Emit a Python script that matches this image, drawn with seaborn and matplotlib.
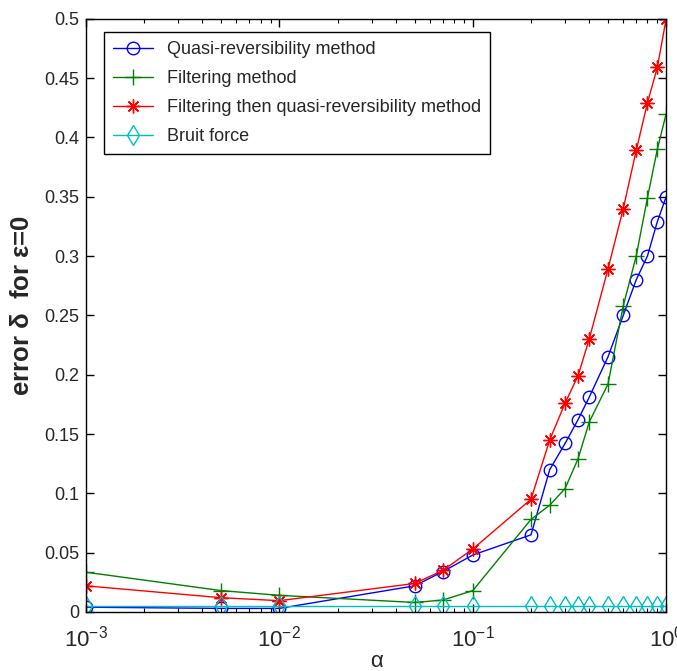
import numpy as np
import pandas as pd
import matplotlib
matplotlib.use("Agg")
import matplotlib.pyplot as plt
import seaborn as sns
from matplotlib.ticker import FixedLocator, LogLocator, NullFormatter

alpha = [0.001, 0.005, 0.01, 0.05, 0.07, 0.1, 0.2, 0.25, 0.3, 0.35, 0.4,
         0.5, 0.6, 0.7, 0.8, 0.9, 1.0]
quasi = [0.004, 0.003, 0.003, 0.022, 0.034, 0.048, 0.065, 0.120, 0.142, 0.162,
         0.181, 0.215, 0.250, 0.280, 0.300, 0.329, 0.350]
filt = [0.0335, 0.018, 0.014, 0.008, 0.010, 0.018, 0.078, 0.090, 0.104, 0.129,
        0.160, 0.192, 0.258, 0.300, 0.349, 0.390, 0.420]
filt_quasi = [0.022, 0.012, 0.0095, 0.024, 0.035, 0.053, 0.095, 0.145, 0.176,
              0.199, 0.230, 0.289, 0.340, 0.389, 0.429, 0.459, 0.500]
bruit = [0.005, 0.005, 0.005, 0.005, 0.005, 0.005, 0.005, 0.005, 0.005, 0.005,
         0.005, 0.005, 0.005, 0.005, 0.005, 0.005, 0.005]

names = ["Quasi-reversibility method", "Filtering method",
         "Filtering then quasi-reversibility method", "Bruit force"]
y_ticks = [0, 0.05, 0.1, 0.15, 0.2, 0.25, 0.3, 0.35, 0.4, 0.45, 0.5]
y_labels = ["0", "0.05", "0.1", "0.15", "0.2", "0.25", "0.3", "0.35", "0.4", "0.45", "0.5"]
x_ticks = [0.001, 0.01, 0.1, 1.0]
x_labels = [r"$\mathregular{10^{-3}}$", r"$\mathregular{10^{-2}}$",
            r"$\mathregular{10^{-1}}$", r"$\mathregular{10^{0}}$"]

sns.set_style("ticks")
plt.rcParams["font.family"] = ["Liberation Sans Narrow", "Liberation Sans", "DejaVu Sans"]
plt.rcParams["xtick.direction"] = "in"
plt.rcParams["ytick.direction"] = "in"
plt.rcParams["axes.unicode_minus"] = False

fig = plt.figure(figsize=(6.77, 6.71), dpi=100)
ax = fig.add_axes([0.127, 0.088, 0.857, 0.884])

styles = [
    (quasi, "#0000ff", "o", 9),
    (filt, "#008000", "+", 11),
    (filt_quasi, "#ff0000", (8, 2, 0), 10),
    (bruit, "#00bfbf", "d", 10),
]
for (vals, col, mk, ms), name in zip(styles, names):
    sns.lineplot(x=alpha, y=vals, ax=ax, color=col, marker=mk, markersize=ms,
                 markerfacecolor="none", markeredgecolor=col, markeredgewidth=1.0,
                 linewidth=1.0, label=name)

ax.set_xscale("log")
ax.set_xlim(0.001, 1.0)
ax.set_ylim(0, 0.5)
ax.xaxis.set_major_locator(FixedLocator(x_ticks))
ax.set_xticklabels(x_labels)
ax.xaxis.set_minor_locator(LogLocator(base=10, subs=np.arange(2, 10)))
ax.xaxis.set_minor_formatter(NullFormatter())
ax.set_yticks(y_ticks)
ax.set_yticklabels(y_labels)
ax.tick_params(which="both", top=True, right=True, color="black")
ax.tick_params(axis="y", labelsize=13, pad=5)
ax.tick_params(axis="x", labelsize=16, pad=10)
ax.tick_params(which="major", length=6, width=1)
ax.tick_params(which="minor", length=3, width=0.8)
for s in ax.spines.values():
    s.set_color("black")
    s.set_linewidth(1.0)

ax.set_xlabel("α", fontsize=16)
ax.xaxis.set_label_coords(0.5, -0.066)
ax.set_ylabel(r"error $\mathregular{\delta}$  for $\mathregular{\varepsilon}$=0",
              fontsize=18.5, fontweight="bold")
ax.yaxis.set_label_coords(-0.090, 0.516)

leg = ax.legend(loc="upper left", bbox_to_anchor=(0.031, 0.978), fontsize=13,
                frameon=True, fancybox=False, framealpha=1, edgecolor="black",
                handlelength=2.2, labelspacing=0.67, borderpad=0.5,
                borderaxespad=0)
leg.get_frame().set_linewidth(1.0)

fig.savefig("out.png", dpi=100, facecolor="white")
